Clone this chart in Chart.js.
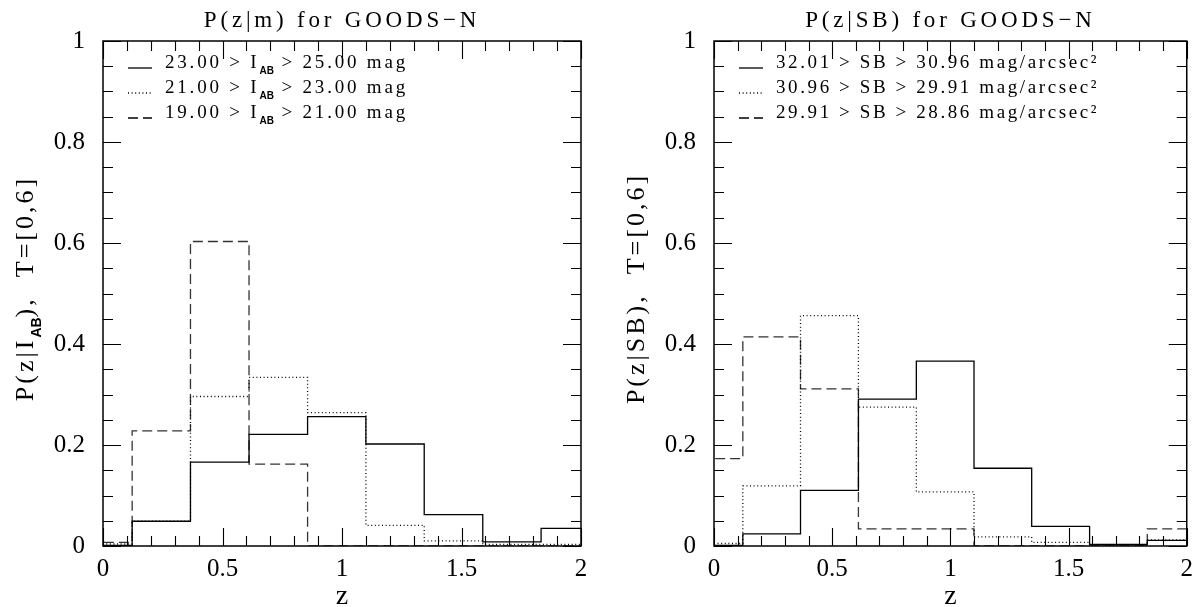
<!DOCTYPE html>
<html>
<head>
<meta charset="utf-8">
<script src="https://cdn.jsdelivr.net/npm/chart.js@4.4.1/dist/chart.umd.min.js"></script>
<style>
  html, body { margin: 0; padding: 0; background: #fff; }
  #wrap { position: relative; width: 1201px; height: 607px; overflow: hidden; }
  #left { position: absolute; left: 0; top: 0; }
  #right { position: absolute; left: 600px; top: 0; }
</style>
</head>
<body>
<div id="wrap">
  <canvas id="left" width="600" height="607"></canvas>
  <canvas id="right" width="601" height="607"></canvas>
</div>
<script>
// bin edges in z (the first bin starts below 0, the last ends past 2)
const binEdges = [-0.122, 0.122, 0.366, 0.611, 0.856, 1.1, 1.344, 1.589, 1.833, 2.078];

// P(z|m) - magnitude bins
const magFaint  = [0.001, 0.049, 0.166, 0.221, 0.256, 0.202, 0.062, 0.008, 0.035];
const magMid    = [0.004, 0.049, 0.296, 0.334, 0.264, 0.041, 0.010, 0.003, 0.003];
const magBright = [0.007, 0.228, 0.603, 0.162, 0, 0, 0, 0, 0];

// P(z|SB) - surface brightness bins
const sbFaint  = [0.001, 0.024, 0.110, 0.291, 0.366, 0.154, 0.039, 0.003, 0.011];
const sbMid    = [0.005, 0.119, 0.456, 0.275, 0.107, 0.018, 0.007, 0.001, 0.012];
const sbBright = [0.173, 0.414, 0.311, 0.034, 0.034, 0, 0, 0, 0.034];

const xTicks = [0, 0.5, 1, 1.5, 2];
const yTicks = [0, 0.2, 0.4, 0.6, 0.8, 1];

const SERIF = '"Liberation Serif", "DejaVu Serif", serif';
const DASHES = [[], [1, 2.6], [10, 5]];

function toSteps(vals) {
  const pts = vals.map((v, i) => ({ x: binEdges[i], y: v }));
  pts.push({ x: binEdges[vals.length], y: vals[vals.length - 1] });
  return pts;
}

// draw a row of text pieces, some of them subscript
function drawRich(ctx, pieces, x, y, size, spacing, align) {
  const subSize = Math.round(size * 0.55);
  const fontOf = p => p.sub ? 'bold ' + subSize + 'px "Liberation Sans", sans-serif' : size + 'px ' + SERIF;
  const widths = pieces.map(p => {
    ctx.font = fontOf(p);
    ctx.letterSpacing = (p.sub ? 0 : spacing) + 'px';
    return ctx.measureText(p.t).width;
  });
  const total = widths.reduce((a, b) => a + b, 0);
  let cx = align === 'center' ? x - total / 2 : x;
  ctx.textAlign = 'left';
  ctx.textBaseline = 'alphabetic';
  pieces.forEach((p, i) => {
    ctx.font = fontOf(p);
    ctx.letterSpacing = (p.sub ? 0 : spacing) + 'px';
    ctx.fillText(p.t, cx, p.sub ? y + size * 0.3 : y);
    cx += widths[i];
  });
  ctx.letterSpacing = '0px';
}

// frame, inward ticks, title, legend and axis titles
const decor = {
  id: 'decor',
  afterDraw(chart, args, opts) {
    const ctx = chart.ctx;
    const a = chart.chartArea;
    const xs = chart.scales.x, ys = chart.scales.y;
    ctx.save();
    ctx.strokeStyle = '#000';
    ctx.lineWidth = 1.5;
    ctx.setLineDash([]);
    ctx.strokeRect(a.left, a.top, a.right - a.left, a.bottom - a.top);

    ctx.lineWidth = 1.1;
    ctx.beginPath();
    for (let i = 0; i <= 20; i++) {
      const px = Math.round(xs.getPixelForValue(i / 10)) + 0.5;
      const len = i % 5 === 0 ? 18 : 10;
      ctx.moveTo(px, a.bottom); ctx.lineTo(px, a.bottom - len);
      ctx.moveTo(px, a.top); ctx.lineTo(px, a.top + len);
    }
    for (let i = 0; i <= 20; i++) {
      const py = Math.round(ys.getPixelForValue(i * 0.05)) + 0.5;
      const len = i % 4 === 0 ? 18 : 10;
      ctx.moveTo(a.left, py); ctx.lineTo(a.left + len, py);
      ctx.moveTo(a.right, py); ctx.lineTo(a.right - len, py);
    }
    ctx.stroke();

    ctx.fillStyle = '#000';
    const midX = (a.left + a.right) / 2;
    drawRich(ctx, [{ t: opts.title }], midX, 27, 23, 3.8, 'center');
    drawRich(ctx, [{ t: 'z' }], midX, 604, 28, 0, 'center');

    opts.legend.forEach((row, i) => {
      const y = a.top + 27 + i * 25;
      ctx.lineWidth = 1.3;
      ctx.setLineDash(DASHES[i]);
      ctx.beginPath();
      ctx.moveTo(a.left + 25, y); ctx.lineTo(a.left + 49, y);
      ctx.stroke();
      ctx.setLineDash([]);
      drawRich(ctx, row, a.left + 62, y, 19, opts.legendSpacing, 'left');
    });

    ctx.translate(a.left - 70, (a.top + a.bottom) / 2 - 5);
    ctx.rotate(-Math.PI / 2);
    drawRich(ctx, opts.yTitle, 0, 0, 26, 3, 'center');
    ctx.restore();
  }
};

function makePanel(id, series, leftW, padRight, decorOpts) {
  const font = { family: SERIF, size: 25 };
  new Chart(document.getElementById(id), {
    type: 'line',
    data: {
      datasets: series.map((vals, i) => ({
        data: toSteps(vals),
        stepped: 'before',
        borderColor: i === 2 ? '#333' : '#000',
        borderWidth: 1.3,
        borderDash: DASHES[i],
        pointRadius: 0,
        fill: false
      }))
    },
    options: {
      responsive: false,
      animation: false,
      events: [],
      layout: { padding: { left: 0, right: padRight, top: 41, bottom: 0 } },
      plugins: {
        legend: { display: false },
        tooltip: { enabled: false },
        decor: decorOpts
      },
      scales: {
        x: {
          type: 'linear', min: 0, max: 2,
          afterBuildTicks: s => { s.ticks = xTicks.map(v => ({ value: v })); },
          afterFit: s => { s.height = 61; },
          grid: { display: false, drawTicks: false },
          border: { display: false },
          ticks: { font: font, color: '#000', padding: 8, maxRotation: 0, callback: v => String(v) }
        },
        y: {
          type: 'linear', min: 0, max: 1,
          afterBuildTicks: s => { s.ticks = yTicks.map(v => ({ value: v })); },
          afterFit: s => { s.width = leftW; },
          grid: { display: false, drawTicks: false },
          border: { display: false },
          ticks: { font: font, color: '#000', padding: 18, callback: v => String(v) }
        }
      }
    },
    plugins: [decor]
  });
}

makePanel('left', [magFaint, magMid, magBright], 103, 19, {
  title: 'P(z|m) for GOODS\u2212N',
  legendSpacing: 2.8,
  legend: [
    [{ t: '23.00 > I' }, { t: 'AB', sub: true }, { t: ' > 25.00 mag' }],
    [{ t: '21.00 > I' }, { t: 'AB', sub: true }, { t: ' > 23.00 mag' }],
    [{ t: '19.00 > I' }, { t: 'AB', sub: true }, { t: ' > 21.00 mag' }]
  ],
  yTitle: [{ t: 'P(z|I' }, { t: 'AB', sub: true }, { t: '),  T=[0,6]' }]
});

makePanel('right', [sbFaint, sbMid, sbBright], 114, 8, {
  title: 'P(z|SB) for GOODS\u2212N',
  legendSpacing: 2.6,
  legend: [
    [{ t: '32.01 > SB > 30.96 mag/arcsec\u00b2' }],
    [{ t: '30.96 > SB > 29.91 mag/arcsec\u00b2' }],
    [{ t: '29.91 > SB > 28.86 mag/arcsec\u00b2' }]
  ],
  yTitle: [{ t: 'P(z|SB),  T=[0,6]' }]
});
</script>
</body>
</html>
